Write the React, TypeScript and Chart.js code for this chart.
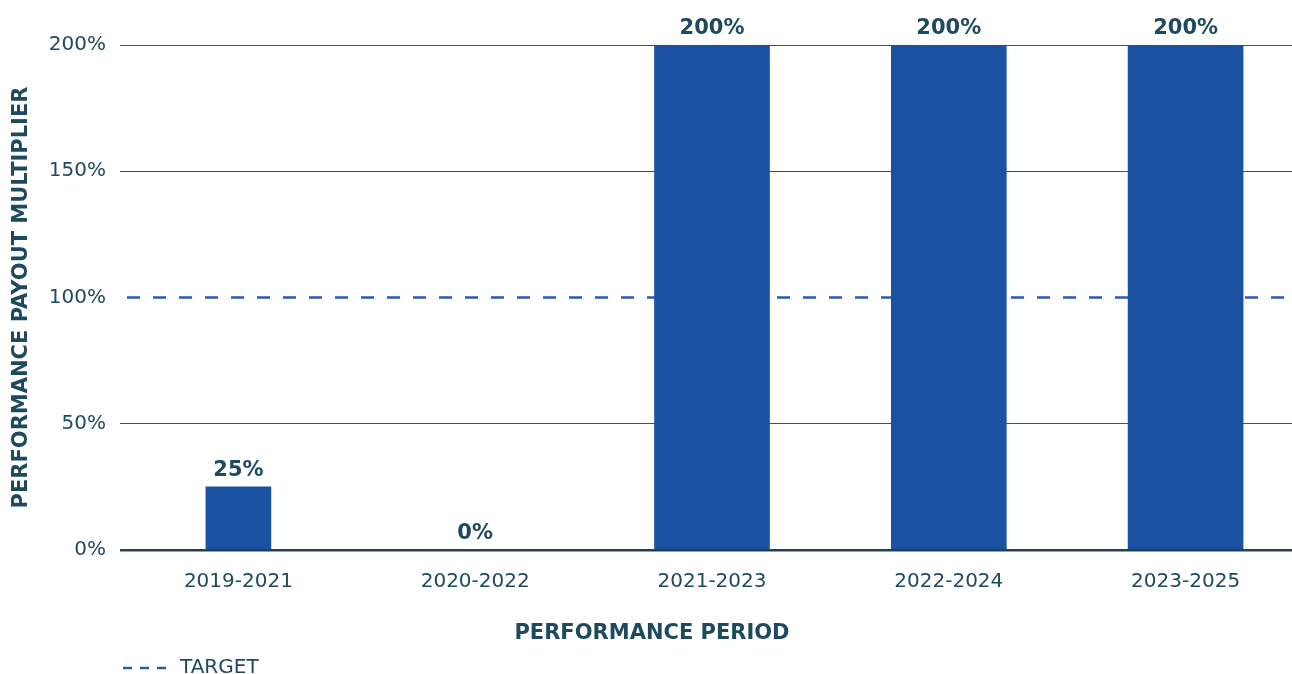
import React, { useEffect, useRef } from 'react';
import { Chart, registerables } from 'chart.js';

Chart.register(...registerables);

// Performance periods and their payout multipliers (%)
const periods = ['2019-2021', '2020-2022', '2021-2023', '2022-2024', '2023-2025'];
const earlyPayout: (number | null)[] = [25, null, null, null, null];
const laterPayout: (number | null)[] = [null, 0, 200, 200, 200];
const targetLevel = 100;
const targetLabel = 'TARGET';
const yMin = 0;
const yMax = 200;
const yStep = 50;

const TEXT = '#1e4a5f';
const BAR = '#1b51a1';
const DASH = '#2a5bb3';
const GRID = '#36566b';
const ZERO = '#1f4257';
const FAMILY = "'DejaVu Sans', 'Noto Sans', sans-serif";

// Dashed target level drawn across the plot, beneath the bars
const targetLinePlugin = {
  id: 'targetLine',
  beforeDatasetsDraw(chart: any) {
    const { ctx, chartArea, scales } = chart;
    const y = scales.y.getPixelForValue(targetLevel);
    ctx.save();
    ctx.strokeStyle = DASH;
    ctx.lineWidth = 2.5;
    ctx.setLineDash([13, 13]);
    ctx.lineDashOffset = 19;
    ctx.beginPath();
    ctx.moveTo(chartArea.left, y);
    ctx.lineTo(chartArea.right, y);
    ctx.stroke();
    ctx.restore();
  },
};

// Percentage labels above each bar
const barLabelPlugin = {
  id: 'barLabels',
  afterDatasetsDraw(chart: any) {
    const { ctx } = chart;
    ctx.save();
    ctx.fillStyle = TEXT;
    ctx.font = `bold 21px ${FAMILY}`;
    ctx.textAlign = 'center';
    ctx.textBaseline = 'alphabetic';
    chart.data.datasets.forEach((ds: any, i: number) => {
      const meta = chart.getDatasetMeta(i);
      meta.data.forEach((el: any, j: number) => {
        const v = ds.data[j];
        if (v === null || v === undefined) return;
        ctx.fillText(`${v}%`, el.x, el.y - 11);
      });
    });
    ctx.restore();
  },
};

export default function App() {
  const canvasRef = useRef<HTMLCanvasElement>(null);

  useEffect(() => {
    if (!canvasRef.current) return;
    const chart = new Chart(canvasRef.current, {
      type: 'bar',
      data: {
        labels: periods,
        datasets: [
          {
            label: periods[0],
            data: earlyPayout,
            backgroundColor: BAR,
            barThickness: 65,
            grouped: false,
          } as any,
          {
            label: 'Payout',
            data: laterPayout,
            backgroundColor: BAR,
            barThickness: 115,
            grouped: false,
          } as any,
        ],
      },
      options: {
        animation: false,
        responsive: true,
        maintainAspectRatio: false,
        layout: { padding: { top: 45, left: 0, right: 0, bottom: 0 } },
        scales: {
          x: {
            grid: { display: false, drawTicks: false },
            border: { display: false },
            ticks: { color: TEXT, font: { size: 20, family: FAMILY }, padding: 20 },
            afterFit: (s: any) => {
              s.height = 71.4;
            },
          },
          y: {
            min: yMin,
            max: yMax,
            ticks: {
              stepSize: yStep,
              color: TEXT,
              font: { size: 20, family: FAMILY },
              padding: 14,
              callback: (v: any) => `${v}%`,
            },
            grid: {
              drawTicks: false,
              color: (c: any) => {
                const v = c.tick ? c.tick.value : null;
                if (v === targetLevel) return 'rgba(0,0,0,0)';
                return v === 0 ? ZERO : GRID;
              },
              lineWidth: (c: any) => (c.tick && c.tick.value === 0 ? 2.5 : 1),
            },
            border: { display: false },
            title: {
              display: true,
              text: 'PERFORMANCE PAYOUT MULTIPLIER',
              color: TEXT,
              font: { size: 21, weight: 'bold', family: FAMILY },
              padding: { top: 9, bottom: 0 },
            },
            afterFit: (s: any) => {
              s.width = 120;
            },
          },
        },
        plugins: {
          tooltip: { enabled: false },
          // x-axis caption, centred on the full canvas width
          title: {
            display: true,
            position: 'bottom',
            fullSize: true,
            text: 'PERFORMANCE PERIOD',
            color: TEXT,
            font: { size: 21, weight: 'bold', family: FAMILY },
            padding: { top: 0, bottom: 8.4 },
          },
          legend: {
            position: 'bottom',
            align: 'start',
            fullSize: false,
            weight: 3000,
            onClick: () => {},
            labels: {
              usePointStyle: true,
              pointStyle: 'line',
              pointStyleWidth: 47,
              padding: 3,
              color: TEXT,
              font: { size: 20, family: FAMILY },
              generateLabels: () => [
                {
                  text: targetLabel,
                  fillStyle: 'rgba(0,0,0,0)',
                  strokeStyle: DASH,
                  lineWidth: 2.5,
                  lineDash: [9, 8],
                  pointStyle: 'line',
                  hidden: false,
                  fontColor: TEXT,
                } as any,
              ],
            },
          },
        },
      } as any,
      plugins: [targetLinePlugin, barLabelPlugin],
    });
    return () => chart.destroy();
  }, []);

  return (
    <div
      style={{
        position: 'fixed',
        left: 0,
        top: 0,
        width: 1292,
        height: 674,
        overflow: 'hidden',
        background: '#ffffff',
      }}
    >
      <div style={{ position: 'relative', width: 1304, height: 688 }}>
        <canvas ref={canvasRef} />
      </div>
    </div>
  );
}
